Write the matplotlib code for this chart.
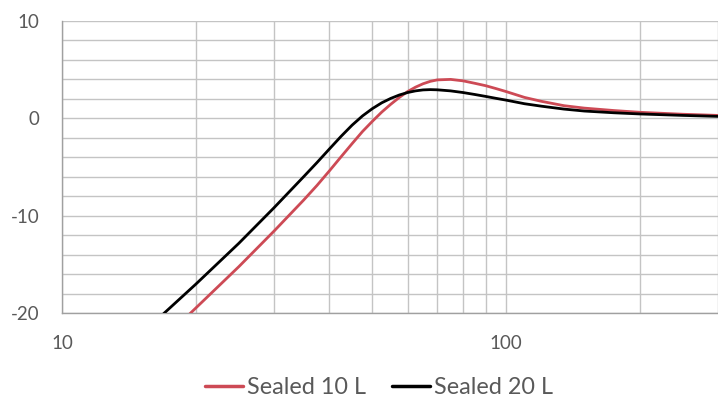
import matplotlib
matplotlib.use("Agg")
import matplotlib.pyplot as plt
from matplotlib.ticker import FixedLocator, NullFormatter, FixedFormatter

# Frequency (Hz) and response (dB)
freq = [15, 17, 20, 25, 30, 35, 37.5, 40, 42.5, 45, 47.5, 50, 52.5, 55, 57.5,
        60, 62.5, 65, 67.5, 70, 75, 80, 85, 90, 95, 100, 110, 120, 135, 150,
        175, 200, 250, 300]
sealed_10 = [-25.0, -22.6, -19.5, -15.25, -11.6, -8.4, -6.9, -5.4, -3.95, -2.6,
             -1.35, -0.3, 0.65, 1.45, 2.15, 2.75, 3.2, 3.55, 3.8, 3.95, 4.0,
             3.85, 3.6, 3.35, 3.05, 2.75, 2.15, 1.75, 1.3, 1.05, 0.8, 0.62,
             0.42, 0.3]
sealed_20 = [-22.35, -20.0, -17.05, -12.85, -9.2, -6.0, -4.55, -3.15, -1.85, -0.7,
             0.25, 1.0, 1.6, 2.05, 2.4, 2.65, 2.82, 2.92, 2.95, 2.93, 2.82,
             2.65, 2.45, 2.25, 2.05, 1.87, 1.5, 1.25, 0.95, 0.75, 0.57, 0.45,
             0.3, 0.2]
series_names = ["Sealed 10 L", "Sealed 20 L"]
x_major = [10, 100]
x_minor = [20, 30, 40, 50, 60, 70, 80, 90, 200, 300]
y_ticks = [-20, -10, 0, 10]
y_minor = [-18, -16, -14, -12, -8, -6, -4, -2, 2, 4, 6, 8]

plt.rcParams['font.family'] = ['Lato', 'DejaVu Sans']
plt.rcParams['axes.unicode_minus'] = False
text_color = '#595959'
grid_color = '#c4c4c4'

fig = plt.figure(figsize=(7.18, 4.01), dpi=100)
ax = fig.add_axes([62/718, 1 - 313/401, 1 - 62/718, (313 - 21)/401])

ax.plot(freq, sealed_10, color='#cd4a55', lw=2.0, label=series_names[0], zorder=3,
        solid_capstyle='round', solid_joinstyle='round')
ax.plot(freq, sealed_20, color='#000000', lw=2.0, label=series_names[1], zorder=4,
        solid_capstyle='round', solid_joinstyle='round')

ax.set_xscale('log')
ax.set_xlim(10, 300)
ax.set_ylim(-20, 10)

ax.xaxis.set_major_locator(FixedLocator(x_major))
ax.xaxis.set_major_formatter(FixedFormatter([str(v) for v in x_major]))
ax.xaxis.set_minor_locator(FixedLocator(x_minor))
ax.xaxis.set_minor_formatter(NullFormatter())
ax.yaxis.set_major_locator(FixedLocator(y_ticks))
ax.yaxis.set_minor_locator(FixedLocator(y_minor))

ax.grid(True, which='both', color=grid_color, lw=1.0)
ax.set_axisbelow(True)

for side in ['top', 'right']:
    ax.spines[side].set_visible(False)
for side in ['left', 'bottom']:
    ax.spines[side].set_color('#a0a0a0')
    ax.spines[side].set_linewidth(1.0)

ax.tick_params(axis='both', which='both', length=0, colors=text_color,
               labelsize=13.5)
ax.tick_params(axis='x', pad=16)
ax.tick_params(axis='y', pad=16)

leg = fig.legend(loc='center', bbox_to_anchor=(0.528, 1 - 388/401), ncol=2,
                 frameon=False, fontsize=16.8, handlelength=1.65,
                 handletextpad=0.17, columnspacing=1.1)
for t in leg.get_texts():
    t.set_color(text_color)
for h in leg.legend_handles:
    h.set_linewidth(2.5)

fig.savefig('out.png', dpi=100)
